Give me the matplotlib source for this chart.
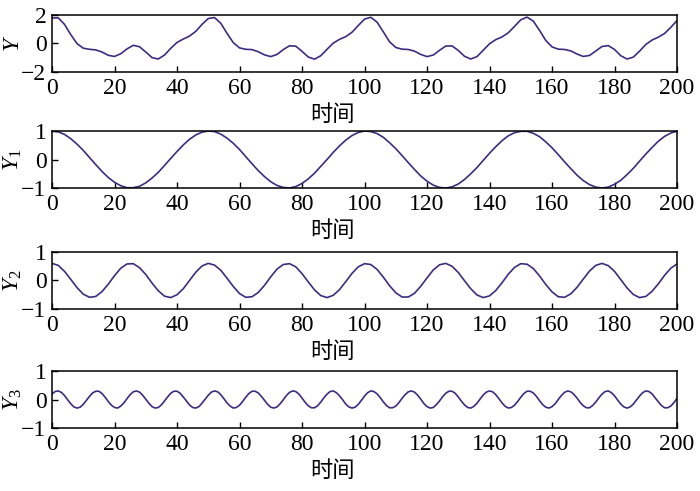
import numpy as np
import matplotlib
matplotlib.use("Agg")
import matplotlib.pyplot as plt

# time axes: step 2 for the slow curves, step 1 for the fast Y3
t = np.arange(0, 201, 2)
t_fine = np.arange(0, 201, 1)

# values
y_sum = [1.79, 1.80, 1.34, 0.62, -0.01, -0.33, -0.41, -0.45, -0.60, -0.83,
         -0.91, -0.72, -0.38, -0.13, -0.23, -0.60, -0.99, -1.09, -0.81, -0.34,
         0.07, 0.31, 0.52, 0.85, 1.34, 1.75, 1.82, 1.42, 0.71, 0.06,
         -0.31, -0.41, -0.43, -0.58, -0.80, -0.92, -0.77, -0.43, -0.16, -0.19,
         -0.55, -0.95, -1.10, -0.86, -0.41, 0.03, 0.29, 0.48, 0.79, 1.26,
         1.71, 1.84, 1.50, 0.82, 0.12, -0.28, -0.40, -0.42, -0.54, -0.77,
         -0.92, -0.81, -0.48, -0.18, -0.17, -0.49, -0.90, -1.09, -0.92, -0.47,
         -0.02, 0.27, 0.46, 0.75, 1.20, 1.66, 1.85, 1.57, 0.92, 0.21,
         -0.24, -0.40, -0.42, -0.52, -0.74, -0.91, -0.84, -0.53, -0.21, -0.15,
         -0.42, -0.86, -1.09, -0.96, -0.54, -0.07, 0.24, 0.44, 0.70, 1.13,
         1.61]

y1 = [1.00, 0.97, 0.88, 0.73, 0.54, 0.32, 0.07, -0.18, -0.42, -0.63,
      -0.80, -0.92, -0.99, -0.99, -0.94, -0.82, -0.65, -0.45, -0.21, 0.04,
      0.28, 0.51, 0.71, 0.86, 0.96, 1.00, 0.98, 0.89, 0.75, 0.57,
      0.35, 0.10, -0.15, -0.39, -0.60, -0.78, -0.91, -0.98, -1.00, -0.95,
      -0.84, -0.68, -0.48, -0.24, 0.00, 0.25, 0.48, 0.68, 0.84, 0.95,
      1.00, 0.98, 0.91, 0.78, 0.59, 0.38, 0.14, -0.11, -0.35, -0.58,
      -0.76, -0.90, -0.98, -1.00, -0.96, -0.86, -0.70, -0.50, -0.28, -0.03,
      0.22, 0.45, 0.66, 0.83, 0.94, 0.99, 0.99, 0.92, 0.80, 0.62,
      0.41, 0.17, -0.08, -0.32, -0.55, -0.74, -0.88, -0.97, -1.00, -0.97,
      -0.87, -0.73, -0.53, -0.31, -0.06, 0.19, 0.42, 0.64, 0.81, 0.93,
      0.99]

y2 = [0.60, 0.53, 0.32, 0.04, -0.25, -0.48, -0.59, -0.56, -0.39, -0.13,
      0.17, 0.43, 0.58, 0.59, 0.45, 0.21, -0.09, -0.36, -0.55, -0.60,
      -0.50, -0.29, 0.00, 0.29, 0.51, 0.60, 0.54, 0.36, 0.08, -0.21,
      -0.46, -0.59, -0.57, -0.42, -0.17, 0.13, 0.40, 0.56, 0.59, 0.48,
      0.24, -0.05, -0.33, -0.53, -0.60, -0.52, -0.32, -0.04, 0.25, 0.48,
      0.59, 0.56, 0.39, 0.12, -0.18, -0.43, -0.58, -0.58, -0.45, -0.20,
      0.09, 0.37, 0.55, 0.60, 0.50, 0.28, -0.01, -0.29, -0.51, -0.60,
      -0.54, -0.35, -0.08, 0.22, 0.46, 0.59, 0.57, 0.42, 0.16, -0.14,
      -0.40, -0.57, -0.59, -0.47, -0.24, 0.05, 0.33, 0.53, 0.60, 0.52,
      0.32, 0.03, -0.26, -0.49, -0.60, -0.56, -0.38, -0.12, 0.18, 0.43,
      0.58]

y3 = [0.19, 0.28, 0.30, 0.25, 0.14, -0.01, -0.15, -0.26, -0.30, -0.27,
      -0.17, -0.03, 0.11, 0.23, 0.29, 0.29, 0.21, 0.08, -0.07, -0.20,
      -0.28, -0.30, -0.23, -0.12, 0.03, 0.17, 0.27, 0.30, 0.26, 0.15,
      0.01, -0.13, -0.25, -0.30, -0.28, -0.19, -0.05, 0.09, 0.22, 0.29,
      0.29, 0.22, 0.09, -0.05, -0.19, -0.28, -0.30, -0.25, -0.13, 0.01,
      0.15, 0.26, 0.30, 0.27, 0.17, 0.03, -0.12, -0.23, -0.30, -0.28,
      -0.20, -0.07, 0.08, 0.21, 0.29, 0.29, 0.23, 0.11, -0.03, -0.17,
      -0.27, -0.30, -0.26, -0.15, -0.01, 0.14, 0.25, 0.30, 0.28, 0.19,
      0.05, -0.10, -0.22, -0.29, -0.29, -0.22, -0.09, 0.06, 0.19, 0.28,
      0.30, 0.24, 0.13, -0.01, -0.16, -0.26, -0.30, -0.27, -0.17, -0.03,
      0.12, 0.24, 0.30, 0.28, 0.20, 0.07, -0.08, -0.21, -0.29, -0.29,
      -0.23, -0.11, 0.04, 0.17, 0.27, 0.30, 0.26, 0.15, 0.01, -0.14,
      -0.25, -0.30, -0.28, -0.18, -0.05, 0.10, 0.22, 0.29, 0.29, 0.22,
      0.09, -0.06, -0.19, -0.28, -0.30, -0.24, -0.13, 0.02, 0.16, 0.26,
      0.30, 0.27, 0.17, 0.03, -0.12, -0.24, -0.30, -0.28, -0.20, -0.07,
      0.08, 0.21, 0.29, 0.29, 0.23, 0.11, -0.04, -0.18, -0.27, -0.30,
      -0.25, -0.15, 0.00, 0.14, 0.25, 0.30, 0.27, 0.18, 0.05, -0.10,
      -0.22, -0.29, -0.29, -0.21, -0.09, 0.06, 0.19, 0.28, 0.30, 0.24,
      0.13, -0.02, -0.16, -0.26, -0.30, -0.26, -0.16, -0.02, 0.12, 0.24,
      0.30, 0.28, 0.20, 0.06, -0.08, -0.21, -0.29, -0.29, -0.23, -0.11,
      0.04]

series = [(t, y_sum), (t, y1), (t, y2), (t_fine, y3)]
ylabels = ['$Y$', '$Y_1$', '$Y_2$', '$Y_3$']
ylims = [(-2, 2), (-1, 1), (-1, 1), (-1, 1)]
xticks = [0, 20, 40, 60, 80, 100, 120, 140, 160, 180, 200]

plt.rcParams['font.family'] = ['Liberation Serif', 'Noto Sans CJK SC']
plt.rcParams['mathtext.fontset'] = 'custom'
plt.rcParams['mathtext.it'] = 'Liberation Serif:italic'
plt.rcParams['mathtext.rm'] = 'Liberation Serif'
plt.rcParams['axes.unicode_minus'] = True

fig = plt.figure(figsize=(7, 4.91), dpi=100)
bottoms = [0.8534, 0.6171, 0.3707, 0.1283]
line_col = '#3d2c80'

for i in range(4):
    ax = fig.add_axes([0.0743, bottoms[i], 0.8929, 0.1161])
    xs, ys = series[i]
    ax.plot(xs, ys, color=line_col, lw=1.2)
    ax.set_xlim(0, 200)
    ax.set_ylim(*ylims[i])
    ax.set_xticks(xticks)
    lo, hi = ylims[i]
    ax.set_yticks([lo, 0, hi])
    ax.tick_params(direction='in', length=4.5, width=1.0, labelsize=17,
                   top=False, right=False)
    ax.tick_params(axis='x', pad=4)
    ax.tick_params(axis='y', pad=4)
    for s in ax.spines.values():
        s.set_linewidth(1.1)
    ax.set_xlabel('时间', family='Noto Sans CJK SC', fontsize=16)
    ax.xaxis.set_label_coords(0.448, -0.55)
    ax.set_ylabel(ylabels[i], fontsize=17)
    ax.yaxis.set_label_coords(-0.045, 0.5)

fig.savefig('out.png', dpi=100)
